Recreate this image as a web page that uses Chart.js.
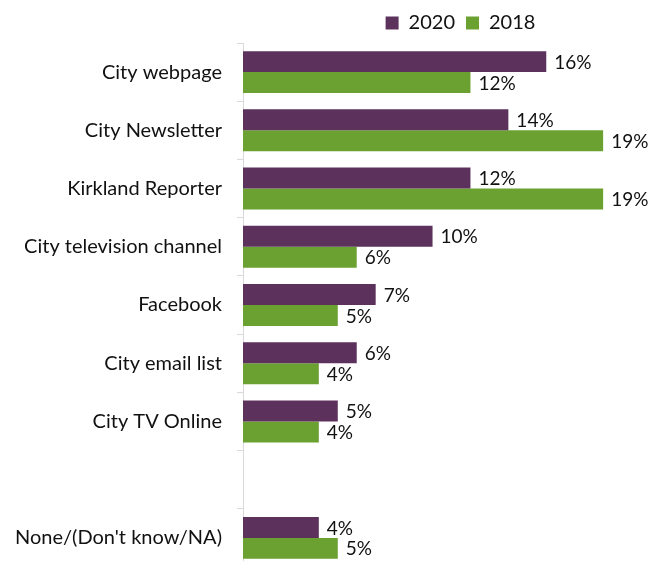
<!DOCTYPE html>
<html>
<head>
<meta charset="utf-8">
<script src="https://cdn.jsdelivr.net/npm/chart.js@4"></script>
<style>
  html, body { margin: 0; padding: 0; background: #fff; overflow: hidden; }
  #wrap { width: 661px; height: 567px; }
</style>
</head>
<body>
<div id="wrap"><canvas id="chart" width="661" height="567"></canvas></div>
<script>
// Sources of city information, share of respondents (%)
const categories = [
  "City webpage",
  "City Newsletter",
  "Kirkland Reporter",
  "City television channel",
  "Facebook",
  "City email list",
  "City TV Online",
  "",
  "None/(Don't know/NA)",
];
const values2020 = [16, 14, 12, 10, 7, 6, 5, null, 4];
const values2018 = [12, 19, 19, 6, 5, 4, 4, null, 5];

const PURPLE = "#5c325c";
const GREEN = "#6ba131";
const FONT = "Lato, 'Open Sans', sans-serif";

// Writes "NN%" just past the end of every bar
const valueLabels = {
  id: "valueLabels",
  afterDatasetsDraw(chart) {
    const ctx = chart.ctx;
    ctx.save();
    ctx.font = `19px ${FONT}`;
    ctx.fillStyle = "#111";
    ctx.textAlign = "left";
    ctx.textBaseline = "middle";
    chart.data.datasets.forEach((ds, i) => {
      chart.getDatasetMeta(i).data.forEach((bar, j) => {
        const v = ds.data[j];
        if (v == null) return;
        ctx.fillText(v + "%", bar.x + 8, bar.y + 1);
      });
    });
    ctx.restore();
  },
};

// Nudge the legend a bit to the right of the plot centre
const legendShift = {
  id: "legendShift",
  afterLayout(chart) {
    chart.legend.left += 9;
    chart.legend.right += 9;
  },
};

new Chart(document.getElementById("chart"), {
  type: "bar",
  data: {
    labels: categories,
    datasets: [
      {
        label: "2020",
        data: values2020,
        backgroundColor: PURPLE,
        categoryPercentage: 0.72,
        barPercentage: 1.0,
      },
      {
        label: "2018",
        data: values2018,
        backgroundColor: GREEN,
        categoryPercentage: 0.72,
        barPercentage: 1.0,
      },
    ],
  },
  options: {
    indexAxis: "y",
    responsive: false,
    animation: false,
    layout: { padding: { left: 0, right: 1, top: 2, bottom: 0 } },
    plugins: {
      legend: {
        position: "top",
        fullSize: false,
        labels: {
          boxWidth: 13,
          boxHeight: 13,
          padding: 11,
          color: "#111",
          font: { family: FONT, size: 20 },
        },
      },
      tooltip: { enabled: false },
    },
    scales: {
      x: {
        display: false,
        min: 0,
        max: 22,
      },
      y: {
        grid: {
          drawOnChartArea: false,
          drawTicks: true,
          tickLength: 6,
          color: "#d9d9d9",
        },
        border: { color: "#d9d9d9", width: 1 },
        ticks: {
          color: "#111",
          padding: 15,
          font: { family: FONT, size: 20 },
        },
        afterFit(scale) {
          // fixed axis position, and no extra room for the end labels
          scale.width = 243;
          scale.paddingTop = 0;
          scale.paddingBottom = 0;
        },
      },
    },
  },
  plugins: [valueLabels, legendShift],
});
</script>
</body>
</html>
